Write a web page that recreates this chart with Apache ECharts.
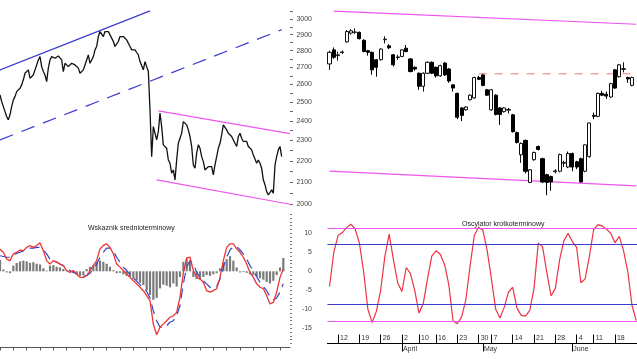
<!DOCTYPE html>
<html><head><meta charset="utf-8">
<script src="https://cdn.jsdelivr.net/npm/echarts@6/dist/echarts.min.js"></script>
<style>html,body{margin:0;padding:0;background:#fff}#c{width:637px;height:359px}</style>
</head><body><div id="c"></div>
<script>
// ---------- DATA ----------
// Long-term daily closes (left upper panel)
const priceLong = [
 2542,2505,2477,2450,2424,2406,2433,2477,2514,2532,
 2560,2570,2579,2598,2627,2665,2675,2685,2636,2646,
 2655,2685,2714,2744,2764,2704,2675,2655,2617,2695,
 2744,2764,2774,2754,2764,2768,2774,2744,2675,2724,
 2714,2704,2714,2724,2724,2714,2704,2695,2665,2661,
 2685,2714,2744,2774,2724,2744,2764,2805,2826,2888,
 2920,2909,2888,2920,2920,2920,2899,2878,2857,2826,
 2826,2857,2888,2899,2888,2878,2867,2863,2826,2805,
 2815,2805,2789,2774,2734,2744,2685,2734,2704,
 2675,2459,2220,2371,2337,2303,2345,2442,2371,2278,
 2286,2261,2204,2188,2141,2156,2110,2204,2286,2278,
 2337,2397,2389,2380,2354,2320,2270,2180,2164,2237,
 2278,2261,2220,2196,2156,2164,2172,2164,2172,2133,
 2180,2220,2261,2286,2328,2380,2380,2354,2337,2337,
 2320,2328,2286,2270,2320,2337,2311,2295,2286,2295,
 2270,2261,2253,2228,2228,2188,2204,2188,2164,2110,
 2087,2056,2041,2049,2064,2049,2180,2220,2253,2270,
 2220
];
const longTrendUp = [[0, 2685], [90, 3055]];
const longTrendUpDashed = [[0, 2303], [169, 2932]];
const longChannelUpper = [[95, 2454], [174, 2335]];
const longChannelLower = [[94, 2110], [174, 2000]];

// Medium-term indicator (left lower panel)
const macdLine = [
 5.8,5.0,3.2,2.8,4.6,5.0,5.6,5.4,6.3,6.8,
 6.3,6.8,7.5,5.4,2.8,1.9,2.8,2.4,1.9,1.5,
 0.2,-0.3,0.2,-0.7,-1.6,-1.6,-1.1,0.2,1.5,2.8,
 5.9,6.8,7.2,6.3,4.6,1.9,1.1,0.2,-0.7,-1.6,
 -2.5,-3.3,-4.2,-5.1,-6.4,-7.7,-13.9,-16.7,-14.7,-13.9,
 -13.0,-12.1,-11.7,-10.8,-6.8,-0.5,3.5,3.7,0.2,-1.6,
 -2.0,-2.9,-5.1,-5.5,-5.1,-4.6,-1.6,2.8,6.3,7.2,
 7.2,5.9,5.0,3.7,1.9,-0.3,-1.6,-3.3,-4.2,-4.6,
 -6.4,-8.6,-8.2,-5.5,-1.6,0.6
];
const macdSignal = [
 4.1,3.9,3.7,3.7,4.4,4.7,5.0,5.4,5.9,6.1,
 6.1,6.3,6.3,5.6,4.6,3.2,2.8,2.4,1.9,1.5,
 0.9,0.2,-0.3,-0.7,-1.1,-1.3,-1.1,-0.5,0.6,1.9,
 3.7,5.0,6.1,6.1,5.4,3.7,2.4,1.1,0.2,-0.9,
 -1.8,-2.6,-3.5,-4.4,-5.3,-7.0,-10.4,-13.0,-14.7,-14.9,
 -14.3,-13.4,-13.0,-11.7,-9.0,-3.3,1.1,2.8,1.9,-0.3,
 -1.6,-2.5,-3.3,-4.2,-4.4,-4.0,-2.0,1.1,3.7,5.6,
 6.5,6.5,5.6,4.6,3.2,1.5,0.2,-1.4,-2.9,-4.0,
 -5.1,-6.7,-7.5,-7.0,-5.5,-3.3
];
const macdHist = [
 3.0,0.5,-0.3,-0.5,1.5,2.2,2.6,2.8,2.6,2.2,
 2.4,2.0,1.8,0.8,0.2,1.5,1.6,1.2,1.0,0.6,
 0.2,-0.2,-0.4,-0.8,-1.2,-1.0,0.6,1.2,1.6,2.4,
 2.8,2.5,2.0,1.2,0.3,-0.5,-0.4,-0.8,-1.2,-1.5,
 -2.0,-2.4,-3.0,-3.6,-5.0,-6.2,-7.5,-7.0,-4.5,-3.5,
 -3.8,-4.2,-3.2,-4.0,-1.5,2.5,3.2,2.8,-1.5,-2.0,
 -2.2,-1.5,-1.0,-1.2,-0.8,-0.5,0.8,2.2,3.2,4.0,
 2.8,1.0,-0.3,-0.2,-0.4,-0.8,-1.0,-1.3,-1.8,-2.2,
 -2.8,-3.2,-2.5,-1.0,1.0,3.5
];

// Daily session dates (right panels)
const dates = [
 '2012-03-08','2012-03-09','2012-03-12','2012-03-13','2012-03-14','2012-03-15','2012-03-16',
 '2012-03-19','2012-03-20','2012-03-21','2012-03-22','2012-03-23','2012-03-26','2012-03-27',
 '2012-03-28','2012-03-29','2012-03-30',
 '2012-04-02','2012-04-03','2012-04-04','2012-04-05','2012-04-10','2012-04-11','2012-04-12',
 '2012-04-13','2012-04-16','2012-04-17','2012-04-18','2012-04-19','2012-04-20','2012-04-23',
 '2012-04-24','2012-04-25','2012-04-26','2012-04-27','2012-04-30',
 '2012-05-02','2012-05-04','2012-05-07','2012-05-08','2012-05-09','2012-05-10','2012-05-11',
 '2012-05-14','2012-05-15','2012-05-16','2012-05-17','2012-05-18','2012-05-21','2012-05-22',
 '2012-05-23','2012-05-24','2012-05-25','2012-05-28','2012-05-29','2012-05-30','2012-05-31',
 '2012-06-01','2012-06-04','2012-06-05','2012-06-06','2012-06-08','2012-06-11','2012-06-12',
 '2012-06-13','2012-06-14','2012-06-15','2012-06-18','2012-06-19','2012-06-20','2012-06-21',
 '2012-06-22','2012-06-25'
];
// [open, close, low, high]
const candles = [
 [2720,2790,2685,2800],[2805,2760,2750,2820],[2770,2775,2740,2795],[2788,2792,2780,2802],
 [2855,2920,2850,2930],[2910,2925,2900,2935],[2915,2917,2905,2940],[2915,2875,2870,2920],
 [2865,2795,2790,2870],[2800,2790,2770,2805],[2790,2685,2656,2795],[2745,2700,2645,2750],
 [2745,2810,2740,2815],[2868,2872,2845,2890],[2830,2818,2810,2840],[2775,2715,2705,2780],
 [2758,2762,2745,2775],[2765,2805,2760,2810],[2815,2795,2790,2835],[2750,2675,2670,2755],
 [2700,2690,2680,2705],[2665,2590,2570,2670],[2590,2665,2560,2670],[2665,2730,2660,2735],
 [2730,2665,2660,2735],[2700,2650,2640,2705],[2650,2710,2645,2715],[2725,2655,2650,2730],
 [2690,2620,2610,2695],[2598,2580,2560,2600],[2550,2420,2410,2555],[2470,2430,2400,2475],
 [2460,2475,2455,2480],[2515,2540,2510,2545],[2525,2640,2520,2645],[2640,2630,2625,2650],
 [2655,2595,2590,2660],[2570,2540,2535,2575],[2460,2570,2455,2575],[2540,2435,2430,2545],
 [2470,2435,2380,2475],[2450,2470,2445,2475],[2458,2462,2440,2470],[2433,2345,2340,2438],
 [2340,2290,2285,2345],[2229,2285,2190,2290],[2300,2150,2140,2305],[2098,2157,2095,2160],
 [2205,2240,2200,2245],[2270,2255,2250,2275],[2210,2100,2095,2215],[2134,2098,2040,2138],
 [2125,2100,2060,2130],[2148,2152,2140,2160],[2150,2230,2145,2235],[2188,2192,2170,2200],
 [2170,2235,2165,2245],[2235,2170,2150,2240],[2195,2170,2160,2200],[2210,2100,2098,2215],
 [2150,2278,2145,2280],[2220,2390,2215,2392],[2430,2425,2410,2445],[2425,2550,2420,2555],
 [2550,2540,2535,2565],[2545,2535,2520,2560],[2530,2605,2525,2610],[2685,2580,2575,2690],
 [2645,2715,2640,2720],[2688,2692,2670,2730],[2640,2632,2610,2645],[2595,2640,2590,2645]
];
const shortChannelUpper = [[1, 3054], [72, 2967]];
const shortChannelLower = [[0, 2151], [72, 2082]];
const resistanceLevel = [[35, 2662], [72, 2662]];

// Short-term oscillator (right lower panel)
const oscillator = [
 -4,5,9.4,10.2,11.5,12.4,11.2,7.5,0,-10,
 -13.5,-10.5,-5,4,9.8,3,-3,-5.3,1,-0.6,
 -5,-11,-8.5,-2,4,5.4,4.5,1.8,-3.5,-13,
 -13.8,-12,-7.5,1.5,9.5,11.6,10.8,5.5,-2,-10,
 -12.3,-9.5,-5.5,-4.2,-9.7,-11.6,-11.8,-10.3,-4.5,7.4,
 6.5,-0.3,-6.5,-4.5,3,8,10,7.8,6.3,-3,
 -2,4,11,12.3,11.9,11.1,10,7.5,9.2,5.5,
 0,-9,-13
];
const oscOuterLevels = [11.4, -13.2];
const oscInnerLevels = [7.2, -8.8];

// Tick labels
const priceTicks = [2000,2100,2200,2300,2400,2500,2600,2700,2800,2900,3000];
const priceTickMarks = [2000,2050,2100,2150,2200,2250,2300,2350,2400,2450,2500,2550,2600,2650,2700,2750,2800,2850,2900,2950,3000,3050];
const indTicks = [10,5,0,-5,-10,-15];
const indTickMarks = [-19,-18,-17,-16,-15,-14,-13,-12,-11,-10,-9,-8,-7,-6,-5,-4,-3,-2,-1,0,1,2,3,4,5,6,7,8,9,10,11,12,13,14,15];
const monthNames = ['January','February','March','April','May','June','July'];

// ---------- CHART ----------
const FONT = '"Liberation Sans", Arial, sans-serif';
const LOGMIN = 1975, LOGMAX = 3129, IMIN = -19, IMAX = 15;
const longCats = priceLong.map((_, i) => String(i)).concat(['170','171','172','173','174']);
const macdCats = macdLine.map((_, i) => String(i)).concat(['86','87']);
const weekStart = dates.map((d, i) => {
  if (i === 0 || i === dates.length - 1) return false;
  return new Date(d).getUTCDay() <= new Date(dates[i - 1]).getUTCDay();
});
const monthStart = dates.map((d, i) => i > 0 && d.slice(5, 7) !== dates[i - 1].slice(5, 7));

const PINK = '#ee55ee', BLUE = '#3a3ad0';
function trend(data, xi, yi, color, type) {
  return { type: 'line', xAxisIndex: xi, yAxisIndex: yi, data: data, symbol: 'none', silent: true,
    clip: false, lineStyle: { color: color, width: 1.2, type: type || 'solid' }, z: 3 };
}

const chart = echarts.init(document.getElementById('c'));
chart.setOption({
  animation: false,
  backgroundColor: '#fff',
  textStyle: { fontFamily: FONT },
  title: [
    { text: 'Wskaznik srednioterminowy', left: 83, top: 220, textStyle: { fontSize: 7, fontWeight: 'normal', color: '#222', fontFamily: FONT } },
    { text: 'Oscylator krotkoterminowy', left: 457, top: 216, textStyle: { fontSize: 7, fontWeight: 'normal', color: '#222', fontFamily: FONT } }
  ],
  grid: [
    { left: 0, top: 0, width: 290, height: 210, outerBoundsMode: 'none' },
    { left: 327.4, top: 0, width: 311, height: 210, outerBoundsMode: 'none' },
    { left: 0, top: 214.3, width: 290, height: 129.2, outerBoundsMode: 'none' },
    { left: 327.4, top: 214.3, width: 311, height: 129.2, outerBoundsMode: 'none' }
  ],
  xAxis: [
    { gridIndex: 0, type: 'category', data: longCats, boundaryGap: false, show: false },
    { gridIndex: 1, type: 'category', data: dates, boundaryGap: true, show: false },
    { gridIndex: 2, type: 'category', data: macdCats, boundaryGap: false, position: 'bottom', offset: 4,
      axisLine: { show: true, onZero: false, lineStyle: { color: '#555', width: 1 } },
      axisTick: { show: true, interval: 3, length: 3, lineStyle: { color: '#555' } },
      axisLabel: { show: false }, splitLine: { show: false } },
    { gridIndex: 3, type: 'category', data: dates, boundaryGap: true, position: 'bottom',
      axisLine: { show: true, onZero: false, lineStyle: { color: '#000', width: 1 } },
      axisTick: { show: true, inside: true, length: 9, alignWithLabel: true, interval: (i) => weekStart[i], lineStyle: { color: '#000' } },
      axisLabel: { show: true, inside: true, interval: (i) => weekStart[i], formatter: (v) => String(+v.slice(8)),
        align: 'left', margin: 2, padding: [0, 0, 0, 2], fontSize: 7, color: '#333', fontFamily: FONT },
      splitLine: { show: false } },
    { gridIndex: 3, type: 'category', data: dates, boundaryGap: true, position: 'bottom',
      axisLine: { show: false, onZero: false },
      axisTick: { show: true, length: 8, alignWithLabel: true, interval: (i) => monthStart[i], lineStyle: { color: '#000' } },
      axisLabel: { show: true, interval: (i) => monthStart[i], formatter: (v) => monthNames[+v.slice(5, 7) - 1],
        align: 'left', margin: 2, padding: [0, 0, 0, 1], fontSize: 7, color: '#333', fontFamily: FONT },
      splitLine: { show: false } }
  ],
  yAxis: [
    { gridIndex: 0, type: 'log', logBase: 10, min: LOGMIN, max: LOGMAX, show: false },
    { gridIndex: 0, type: 'value', position: 'right', min: Math.log10(LOGMIN), max: Math.log10(LOGMAX),
      axisLine: { show: false }, splitLine: { show: false },
      axisTick: { show: true, customValues: priceTickMarks.map(Math.log10), length: 3, lineStyle: { color: '#666' } },
      axisLabel: { show: true, customValues: priceTicks.map(Math.log10), formatter: (v) => String(Math.round(Math.pow(10, v))),
        align: 'right', margin: 22, fontSize: 7, color: '#444', fontFamily: FONT } },
    { gridIndex: 1, type: 'log', logBase: 10, min: LOGMIN, max: LOGMAX, show: false },
    { gridIndex: 2, type: 'value', position: 'right', min: IMIN, max: IMAX,
      axisLine: { show: false }, splitLine: { show: false },
      axisTick: { show: true, customValues: indTickMarks, length: 2, lineStyle: { color: '#777' } },
      axisLabel: { show: true, customValues: indTicks, align: 'right', margin: 22, fontSize: 7, color: '#444', fontFamily: FONT } },
    { gridIndex: 3, type: 'value', min: IMIN, max: IMAX, show: false }
  ],
  series: [
    // left upper
    trend(longTrendUp, 0, 0, BLUE),
    trend(longTrendUpDashed, 0, 0, BLUE, [14, 9]),
    trend(longChannelUpper, 0, 0, PINK),
    trend(longChannelLower, 0, 0, PINK),
    { type: 'line', xAxisIndex: 0, yAxisIndex: 0, data: priceLong, symbol: 'none', silent: true,
      lineStyle: { color: '#111', width: 1.3 }, z: 4 },
    // right upper
    trend(shortChannelUpper, 1, 2, PINK),
    trend(shortChannelLower, 1, 2, PINK),
    trend(resistanceLevel, 1, 2, '#f09090', [8, 8]),
    { type: 'candlestick', xAxisIndex: 1, yAxisIndex: 2, data: candles, barWidth: 3.6, silent: true, z: 4,
      itemStyle: { color: '#fff', color0: '#000', borderColor: '#111', borderColor0: '#000', borderWidth: 1 } },
    // left lower
    { type: 'bar', xAxisIndex: 2, yAxisIndex: 3, data: macdHist, barWidth: 2.2, silent: true,
      itemStyle: { color: '#7a7a7a' }, z: 2 },
    { type: 'line', xAxisIndex: 2, yAxisIndex: 3, data: macdSignal, symbol: 'none', silent: true,
      lineStyle: { color: '#3344cc', width: 1.2, type: [10, 6] }, z: 3 },
    { type: 'line', xAxisIndex: 2, yAxisIndex: 3, data: macdLine, symbol: 'none', silent: true,
      lineStyle: { color: '#ee3333', width: 1.3 }, z: 4 },
    // right lower
    { type: 'line', xAxisIndex: 3, yAxisIndex: 4, data: oscillator, symbol: 'none', silent: true,
      lineStyle: { color: '#ee3344', width: 1.2 }, z: 4,
      markLine: { silent: true, symbol: 'none', label: { show: false },
        data: oscOuterLevels.map(v => ({ yAxis: v, lineStyle: { color: PINK, width: 1.2, type: 'solid' } }))
          .concat(oscInnerLevels.map(v => ({ yAxis: v, lineStyle: { color: BLUE, width: 1.2, type: 'solid' } }))) } }
  ]
});
</script></body></html>
